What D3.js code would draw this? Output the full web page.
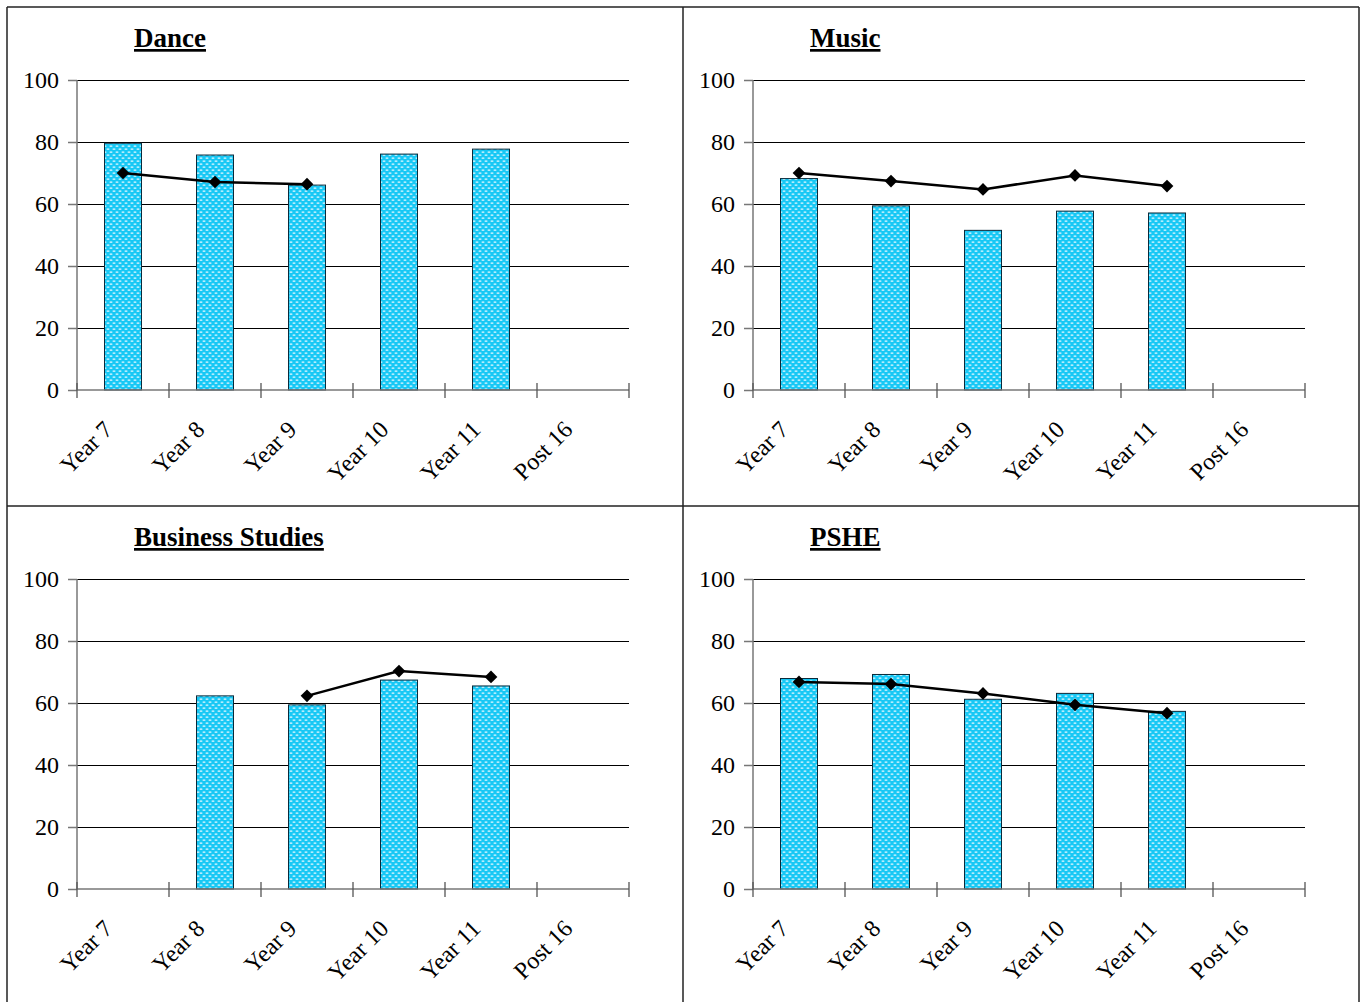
<!DOCTYPE html>
<html><head><meta charset="utf-8">
<script src="https://cdn.jsdelivr.net/npm/d3@7"></script>
<style>
html,body{margin:0;padding:0;background:#fff;}
svg{display:block;}
</style></head>
<body>
<svg id="chart" width="1363" height="1002"></svg>
<script>
const categories = ["Year 7","Year 8","Year 9","Year 10","Year 11","Post 16"];
const yTicks = [0,20,40,60,80,100];
const titles = ["Dance","Music","Business Studies","PSHE"];
const danceBars = [79.6, 75.8, 66.1, 76.1, 77.7, null];
const danceLine = [70.0, 67.1, 66.4, null, null, null];
const musicBars = [68.2, 59.4, 51.5, 57.7, 57.1, null];
const musicLine = [70.0, 67.4, 64.7, 69.2, 65.8, null];
const businessBars = [null, 62.3, 59.4, 67.4, 65.5, null];
const businessLine = [null, null, 62.3, 70.3, 68.4, null];
const psheBars = [67.9, 69.2, 61.2, 63.1, 57.3, null];
const psheLine = [66.8, 66.1, 63.1, 59.4, 56.7, null];

const panels = [
  {title: titles[0], bars: danceBars, line: danceLine, px: 7, py: 7},
  {title: titles[1], bars: musicBars, line: musicLine, px: 683, py: 7},
  {title: titles[2], bars: businessBars, line: businessLine, px: 7, py: 506},
  {title: titles[3], bars: psheBars, line: psheLine, px: 683, py: 506}
];

const svg = d3.select("#chart");
const defs = svg.append("defs");
const pat = defs.append("pattern").attr("id","dots").attr("patternUnits","userSpaceOnUse")
  .attr("width",6).attr("height",6);
pat.append("rect").attr("width",6).attr("height",6).attr("fill","#17c8f5");
pat.append("rect").attr("x",0.5).attr("y",0.5).attr("width",3).attr("height",1.2).attr("fill","#e8f9ff").attr("rx",0.6);
pat.append("rect").attr("x",3.5).attr("y",3.5).attr("width",3).attr("height",1.2).attr("fill","#e8f9ff").attr("rx",0.6);
pat.append("rect").attr("x",-2.5).attr("y",3.5).attr("width",3).attr("height",1.2).attr("fill","#e8f9ff").attr("rx",0.6);

const font = "'Liberation Serif','Times New Roman',serif";

panels.forEach(p => {
  const g = svg.append("g").attr("transform", `translate(${p.px},${p.py})`);
  const x0 = 70, x1 = 622, yTop = 73, yBot = 383;
  const x = d3.scaleBand().domain(categories).range([x0, x1]).paddingInner(0).paddingOuter(0);
  const y = d3.scaleLinear().domain([0,100]).range([yBot, yTop]);

  // title
  g.append("text").attr("x",127).attr("y",40).text(p.title)
    .attr("font-family",font).attr("font-weight","bold").attr("font-size",27)
    .attr("text-decoration","underline").attr("fill","#000");

  // gridlines
  g.append("g").selectAll("line").data(yTicks.filter(d=>d>0)).join("line")
    .attr("x1",x0).attr("x2",x1).attr("y1",d=>Math.round(y(d))+0.5).attr("y2",d=>Math.round(y(d))+0.5)
    .attr("stroke","#000").attr("stroke-width",1);

  // y axis
  const ya = d3.axisLeft(y).tickValues(yTicks).tickSize(9).tickPadding(9);
  const yg = g.append("g").attr("transform",`translate(${x0},0)`).call(ya);
  yg.select(".domain").attr("stroke","#777").attr("stroke-width",1.5).attr("d",`M0,${yTop}V${yBot}`);
  yg.selectAll(".tick line").attr("stroke","#777").attr("stroke-width",1.5);
  yg.selectAll(".tick text").attr("font-family",font).attr("font-size",24).attr("fill","#000");

  // bars
  const bw = 37;
  g.append("g").selectAll("rect").data(categories.map((c,i)=>({c,v:p.bars[i]})).filter(d=>d.v!=null)).join("rect")
    .attr("x",d=>x(d.c)+x.bandwidth()/2-bw/2).attr("width",bw)
    .attr("y",d=>y(d.v)).attr("height",d=>y(0)-y(d.v))
    .attr("fill","url(#dots)").attr("stroke","#0a2a3a").attr("stroke-width",1);

  // x axis
  const xg = g.append("g").attr("transform",`translate(0,${yBot})`);
  xg.append("line").attr("x1",x0).attr("x2",x1).attr("stroke","#777").attr("stroke-width",1.5);
  const tickPos = categories.map(c=>x(c)).concat([x1]);
  xg.selectAll("line.t").data(tickPos).join("line").attr("class","t")
    .attr("x1",d=>d).attr("x2",d=>d).attr("y1",-7).attr("y2",8)
    .attr("stroke","#555").attr("stroke-width",1.3);
  xg.selectAll("text").data(categories).join("text")
    .attr("transform",d=>`translate(${x(d)+x.bandwidth()/2-9},${41}) rotate(-45)`)
    .attr("text-anchor","end").attr("font-family",font).attr("font-size",24).attr("fill","#000")
    .text(d=>d);

  // line
  const lineData = categories.map((c,i)=>({c,v:p.line[i]})).filter(d=>d.v!=null);
  const lg = d3.line().x(d=>x(d.c)+x.bandwidth()/2).y(d=>y(d.v));
  g.append("path").datum(lineData).attr("d",lg).attr("fill","none").attr("stroke","#000").attr("stroke-width",2.5);
  g.append("g").selectAll("path").data(lineData).join("path")
    .attr("d",d3.symbol().type(d3.symbolSquare).size(81))
    .attr("transform",d=>`translate(${x(d.c)+x.bandwidth()/2},${y(d.v)}) rotate(45)`)
    .attr("fill","#000");
});

// panel borders
const bc = "#222";
svg.append("line").attr("x1",7).attr("x2",1359).attr("y1",7).attr("y2",7).attr("stroke",bc).attr("stroke-width",1.5);
svg.append("line").attr("x1",7).attr("x2",7).attr("y1",7).attr("y2",1002).attr("stroke",bc).attr("stroke-width",1.5);
svg.append("line").attr("x1",1359).attr("x2",1359).attr("y1",7).attr("y2",1002).attr("stroke",bc).attr("stroke-width",1.5);
svg.append("line").attr("x1",683).attr("x2",683).attr("y1",7).attr("y2",1002).attr("stroke",bc).attr("stroke-width",1.5);
svg.append("line").attr("x1",7).attr("x2",1359).attr("y1",506).attr("y2",506).attr("stroke",bc).attr("stroke-width",1.5);
</script>
</body></html>
